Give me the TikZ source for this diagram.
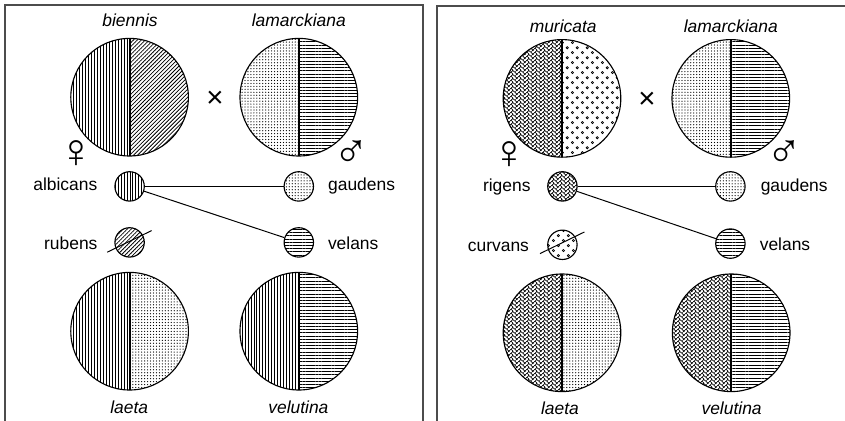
\documentclass[tikz,border=0pt]{standalone}
\usepackage{fontspec}
\setmainfont{Liberation Sans}
\usepackage{tikz}
\usetikzlibrary{patterns.meta}
\usepackage{tkz-euclide}

\tikzdeclarepattern{
  name=odots, type=uncolored,
  bounding box={(0,0) and (7pt,7pt)},
  tile size={(7pt,7pt)},
  code={\draw[line width=0.45pt] (1.75pt,1.75pt) circle (0.8pt) (5.25pt,5.25pt) circle (0.8pt);}}
\tikzdeclarepattern{
  name=herring, type=uncolored,
  bounding box={(0,0) and (5.94pt,2.97pt)},
  tile size={(5.94pt,2.97pt)},
  code={\foreach \j in {-5,...,5} \foreach \m in {-3,...,3}
    {\draw[line width=0.28pt, x=2.1pt, y=2.1pt, rotate=45, shift={(\j+2*\m,\j-2*\m)}]
      (0,0) rectangle (2,1) (0,1) rectangle (1,3);}}}

% two halves of a big circle
\newcommand{\halves}[3]{%
  \fill[#2] (#1) ++(0,1.47) arc (90:270:1.47) -- cycle;
  \fill[#3] (#1) ++(0,-1.47) arc (-90:90:1.47) -- cycle;
  \draw[line width=0.8pt] (#1) circle (1.47);
  \draw[line width=1.3pt] (#1) ++(0,1.47) -- ++(0,-2.94);}

\begin{document}
\begin{tikzpicture}[font=\fontsize{12.4}{14}\selectfont,
    frame/.style={draw=black!70, line width=1.4pt},
    gamete/.style={circle, draw, line width=0.8pt, minimum size=0.735cm, inner sep=0pt},
    sex/.style={font=\fontsize{34}{34}\selectfont, inner sep=0pt, anchor=base},
    vlin/.style={pattern={Lines[angle=90,distance=2.1pt,line width=0.55pt]}},
    dlin/.style={pattern={Lines[angle=45,distance=2pt,line width=0.55pt]}},
    hlin/.style={pattern={Lines[angle=0,distance=2.3pt,line width=0.55pt]}},
    fdot/.style={pattern={Dots[radius=0.45pt,distance=2.1pt]}},
    odot/.style={pattern=odots},
    herr/.style={pattern=herring}]
  \useasboundingbox (0,0) rectangle (21.125,10.5);
  \draw[frame] (0.125,-1) rectangle (10.575,10.375);
  \draw[frame] (10.93,-1) rectangle (22,10.35);
  \tkzDefPoints{3.24/8.07/B, 7.47/8.07/L, 3.24/5.84/A, 7.47/5.84/G,
                3.24/4.44/R, 7.47/4.44/V, 3.24/2.22/E, 7.47/2.22/T}
  \tkzDefPoints{14.05/8.04/M, 18.27/8.04/K, 14.06/5.84/C, 18.26/5.84/H,
                14.06/4.38/U, 18.26/4.41/W, 14.05/2.18/F, 18.28/2.18/S}
  % left panel
  \halves{B}{vlin}{dlin}
  \halves{L}{fdot}{hlin}
  \halves{E}{vlin}{fdot}
  \halves{T}{vlin}{hlin}
  \node[anchor=base] (nb) at (3.25,9.825) {\itshape biennis};
  \node[anchor=base] (nl) at (7.47,9.825) {\itshape lamarckiana};
  \node[anchor=base] (ne) at (3.23,0.175) {\itshape laeta};
  \node[anchor=base] (nt) at (7.46,0.175) {\itshape velutina};
  \node (x1) at (5.375,8.03) {\fontsize{21}{21}\selectfont ×};
  \node[sex] (f1) at (1.9,6.3) {\smash{♀}};
  \node[sex] (m1) at (8.79,6.3) {\smash{♂}};
  \node[gamete, vlin] (alb) at (A) {};
  \node[gamete, fdot] (gau) at (G) {};
  \node[gamete, dlin] (rub) at (R) {};
  \node[gamete, hlin] (vel) at (V) {};
  \node[anchor=base] (na) at (1.633,5.725) {albicans};
  \node[anchor=base] (ng) at (9.04,5.725) {gaudens};
  \node[anchor=base] (nr) at (1.77,4.275) {rubens};
  \node[anchor=base] (nv) at (8.83,4.275) {velans};
  \draw[line width=0.7pt] (alb) -- (gau);
  \draw[line width=0.7pt] (alb) -- (vel);
  \draw[line width=0.7pt] (rub.center) ++(-0.56,-0.245) -- ++(1.11,0.54);
  % right panel
  \halves{M}{herr}{odot}
  \halves{K}{fdot}{hlin}
  \halves{F}{herr}{fdot}
  \halves{S}{herr}{hlin}
  \node[anchor=base] (nm) at (14.08,9.675) {\itshape muricata};
  \node[anchor=base] (nk) at (18.27,9.675) {\itshape lamarckiana};
  \node[anchor=base] (nf) at (14.0,0.15) {\itshape laeta};
  \node[anchor=base] (ns) at (18.29,0.15) {\itshape velutina};
  \node (x2) at (16.175,8.0) {\fontsize{21}{21}\selectfont ×};
  \node[sex] (f2) at (12.73,6.28) {\smash{♀}};
  \node[sex] (m2) at (19.61,6.3) {\smash{♂}};
  \node[gamete, herr] (rig) at (C) {};
  \node[gamete, fdot] (gau2) at (H) {};
  \node[gamete, odot] (cur) at (U) {};
  \node[gamete, hlin] (vel2) at (W) {};
  \node[anchor=base] (nc) at (12.67,5.7) {rigens};
  \node[anchor=base] (nh) at (19.855,5.7) {gaudens};
  \node[anchor=base] (nu) at (12.46,4.225) {curvans};
  \node[anchor=base] (nw) at (19.625,4.25) {velans};
  \draw[line width=0.7pt] (rig) -- (gau2);
  \draw[line width=0.7pt] (rig) -- (vel2);
  \draw[line width=0.7pt] (cur.center) ++(-0.56,-0.22) -- ++(1.11,0.54);
\end{tikzpicture}
\end{document}
